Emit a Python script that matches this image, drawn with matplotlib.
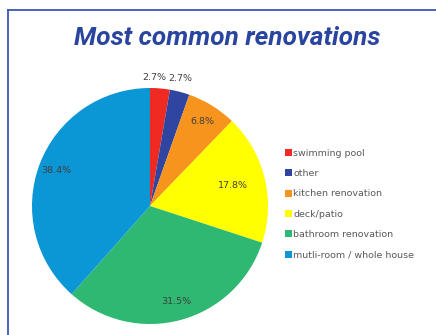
#!/usr/bin/env python
# Most common renovations - pie chart

import matplotlib
matplotlib.use('Agg')
import matplotlib.pyplot as plt
import numpy as np

categories = ['swimming pool', 'other', 'kitchen renovation', 'deck/patio',
              'bathroom renovation', 'mutli-room / whole house']
shares = [2.7, 2.7, 6.8, 17.8, 31.5, 38.4]
colors = ['#ee2a22', '#2f45a0', '#f7941d', '#ffff00', '#2eb872', '#0b96d6']
# distance of each percentage label from the centre (in radii)
label_dist = [1.09, 1.12, 0.84, 0.72, 0.84, 0.85]
# small horizontal nudges (px) so the two outside labels sit side by side
label_dx = [-7, -3, 0, 0, 0, 0]

W, H = 436, 335
fig = plt.figure(figsize=(W / 100, H / 100), dpi=100)

# blue frame (top and left edges)
frame_col = '#3b56b8'
fig.add_artist(plt.Line2D([8 / W, 1], [1 - 10 / H, 1 - 10 / H], color=frame_col, lw=1.3))
fig.add_artist(plt.Line2D([8 / W, 8 / W], [0, 1 - 10 / H], color=frame_col, lw=1.3))

fig.text(227 / W, 1 - 38 / H, 'Most common renovations', ha='center', va='center',
         fontsize=18.8, fontweight='bold', fontstyle='italic', color='#2a45a0',
         family='Roboto')

# pie axes: centre (150, 206), radius 118 px
cx, cy, r = 150, 206, 118
ax = fig.add_axes([(cx - r) / W, (H - cy - r) / H, 2 * r / W, 2 * r / H])
wedges, _ = ax.pie(shares, colors=colors, startangle=90, counterclock=False,
                   wedgeprops=dict(linewidth=0))
ax.set_xlim(-1, 1)
ax.set_ylim(-1, 1)
ax.set_aspect('equal')
ax.axis('off')

for w, v, d, dx in zip(wedges, shares, label_dist, label_dx):
    mid = np.deg2rad((w.theta1 + w.theta2) / 2)
    x, y = d * np.cos(mid) + dx / r, d * np.sin(mid)
    ax.text(x, y, f'{v:.1f}%', ha='center', va='center', fontsize=6.8,
            color='#404040', clip_on=False)

leg = fig.legend(wedges, categories, loc='upper left',
                 bbox_to_anchor=(281 / W, 1 - 145 / H), frameon=False,
                 fontsize=6.8, handlelength=0.75, handleheight=0.75,
                 handletextpad=0.15, labelspacing=1.2, borderaxespad=0)
for t in leg.get_texts():
    t.set_color('#595959')

plt.savefig('out.png', dpi=100)
